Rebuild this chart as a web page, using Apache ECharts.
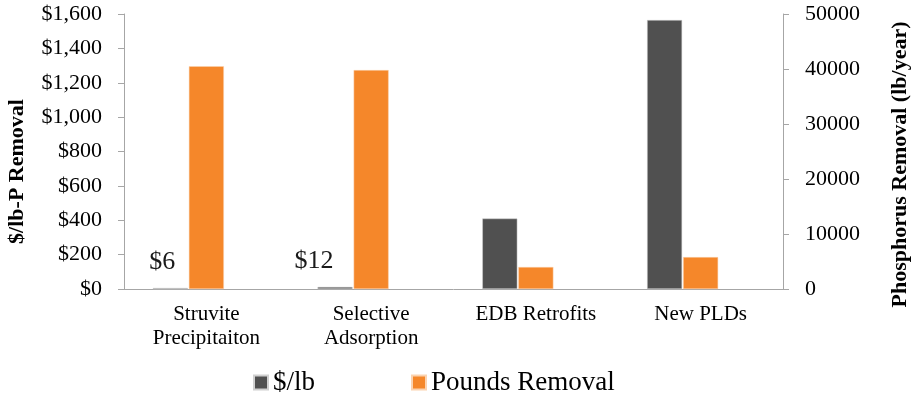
<!DOCTYPE html>
<html>
<head>
<meta charset="utf-8">
<script src="https://cdn.jsdelivr.net/npm/echarts@6/dist/echarts.min.js"></script>
<style>
  html, body { margin: 0; padding: 0; background: #fff; }
  #chart { width: 913px; height: 394px; }
</style>
</head>
<body>
<div id="chart"></div>
<script>
// Cost per pound of phosphorus removed vs. annual pounds removed, by practice
const categories = ['Struvite\nPrecipitaiton', 'Selective\nAdsorption', 'EDB Retrofits', 'New PLDs'];
const costPerLb = [6, 12, 410, 1565];
const poundsRemoval = [40500, 39800, 4000, 5800];
const costTicks = { min: 0, max: 1600, interval: 200 };
const poundTicks = { min: 0, max: 50000, interval: 10000 };
// value labels shown only where the cost bar is too short to read
const costLabelShift = [-8, -21, null, null];

const serif = 'Liberation Serif';
const axisGray = '#a6a6a6';

const chart = echarts.init(document.getElementById('chart'));

chart.setOption({
  animation: false,
  grid: { left: 124, right: 130, top: 14, bottom: 105, containLabel: false, outerBoundsMode: 'none' },
  legend: {
    data: ['$/lb', 'Pounds Removal'],
    left: 248,
    top: 364,
    itemWidth: 14,
    itemHeight: 14,
    itemGap: 96,
    icon: 'rect',
    textStyle: { fontFamily: serif, fontSize: 27, color: '#000' }
  },
  xAxis: {
    type: 'category',
    data: categories,
    axisLine: { lineStyle: { color: axisGray, width: 1 } },
    axisTick: { length: 6, lineStyle: { color: axisGray } },
    axisLabel: {
      interval: 0,
      margin: 13,
      fontFamily: serif,
      fontSize: 21,
      lineHeight: 24,
      color: '#000'
    }
  },
  yAxis: [
    {
      type: 'value',
      position: 'left',
      min: costTicks.min,
      max: costTicks.max,
      interval: costTicks.interval,
      name: '$/lb-P Removal',
      nameLocation: 'middle',
      nameGap: 96,
      nameTextStyle: {
        fontFamily: serif, fontSize: 22, fontWeight: 'bold', color: '#000',
        padding: [0, 40, 0, 0]
      },
      axisLine: { show: true, lineStyle: { color: axisGray } },
      axisTick: { show: true, length: 6, lineStyle: { color: axisGray } },
      splitLine: { show: false },
      axisLabel: {
        margin: 22,
        fontFamily: serif,
        fontSize: 22,
        color: '#000',
        formatter: v => '$' + v.toLocaleString('en-US')
      }
    },
    {
      type: 'value',
      position: 'right',
      min: poundTicks.min,
      max: poundTicks.max,
      interval: poundTicks.interval,
      name: 'Phosphorus Removal (lb/year)',
      nameLocation: 'middle',
      nameGap: 106,
      nameRotate: 90,
      nameTextStyle: {
        fontFamily: serif, fontSize: 22, fontWeight: 'bold', color: '#000',
        padding: [0, 26, 0, 0]
      },
      axisLine: { show: true, lineStyle: { color: axisGray } },
      axisTick: { show: true, length: 6, lineStyle: { color: axisGray } },
      splitLine: { show: false },
      axisLabel: {
        margin: 22,
        fontFamily: serif,
        fontSize: 22,
        color: '#000',
        formatter: v => String(v)
      }
    }
  ],
  series: [
    {
      name: '$/lb',
      type: 'bar',
      yAxisIndex: 0,
      barWidth: 35,
      barGap: '3%',
      itemStyle: { color: '#505050', borderColor: '#d0d0d0', borderWidth: 0.5 },
      data: costPerLb.map((v, i) => ({
        value: v,
        label: costLabelShift[i] === null ? { show: false } : {
          show: true,
          position: 'top',
          distance: 5,
          offset: [costLabelShift[i], -8],
          formatter: '${c}',
          fontFamily: serif,
          fontSize: 26,
          color: '#1a1a1a'
        }
      }))
    },
    {
      name: 'Pounds Removal',
      type: 'bar',
      yAxisIndex: 1,
      barWidth: 35,
      barGap: '3%',
      itemStyle: { color: '#f5872a', borderColor: '#fbd3b0', borderWidth: 0.5 },
      data: poundsRemoval
    },
    {
      // empty slot to the right of each pair, keeps the orange bar on the category centre
      name: 'spacer',
      type: 'bar',
      yAxisIndex: 1,
      barWidth: 35,
      barGap: '3%',
      silent: true,
      data: []
    }
  ]
});
</script>
</body>
</html>
